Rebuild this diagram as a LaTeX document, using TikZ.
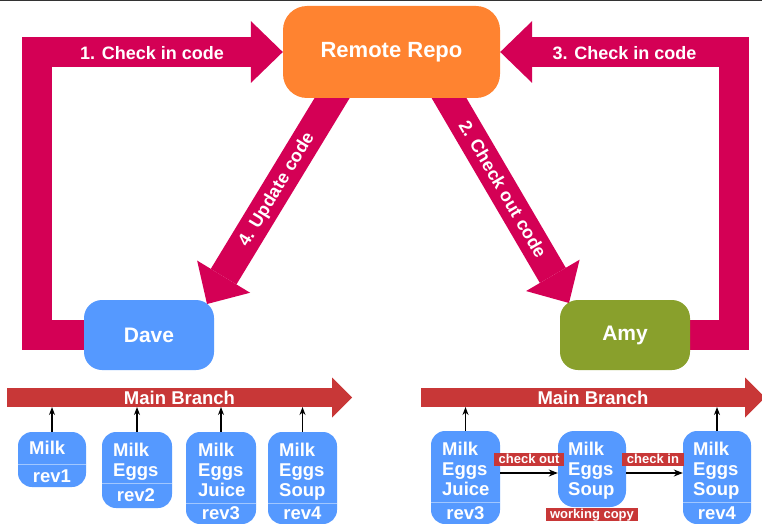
\documentclass[tikz,border=0pt]{standalone}
\usepackage{fontspec}
\setmainfont{Liberation Sans}
\usetikzlibrary{arrows.meta,calc}
\definecolor{mag}{HTML}{D40055}
\definecolor{orn}{HTML}{FF8330}
\definecolor{blu}{HTML}{5599FF}
\definecolor{grn}{HTML}{89A02C}
\definecolor{brd}{HTML}{C83737}
\definecolor{topline}{HTML}{333333}
\pgfdeclarelayer{bg}
\pgfsetlayers{bg,main}
\tikzset{
  bigarrow/.style={draw=mag, line width=30pt, line join=miter,
    -{Triangle[length=32pt,width=62pt,line width=0pt]}},
  branch/.style={draw=brd, line width=19pt,
    -{Triangle[length=20pt,width=40pt,line width=0pt]}},
  bignode/.style={inner sep=0pt, text=white, draw=none},
  arrowtext/.style={text=white, inner sep=0pt, font=\fontsize{18}{20}\selectfont\bfseries},
  btext/.style={text=white, inner sep=0pt, font=\fontsize{18.5}{20}\selectfont\bfseries},
  revbox/.style={fill=blu, rounded corners=14pt, inner sep=0pt, draw=none},
  boxtext/.style={text=white, inner sep=0pt, align=left, font=\fontsize{18.5}{20}\selectfont\bfseries},
  uptext/.style={boxtext, anchor=west},
  divline/.style={draw=white, draw opacity=0.45, line width=1pt},
  smallarrow/.style={draw=black, line width=1.2pt, -{Stealth[length=8pt,width=6pt]}},
  flowarrow/.style={draw=black, line width=1.2pt, -{Stealth[length=9pt,width=7pt]}},
  lbl/.style={fill=brd, text=white, inner xsep=4.5pt, inner ysep=0pt, text height=10pt, text depth=3pt, font=\fontsize{13}{14}\selectfont\bfseries}
}
\begin{document}
\begin{tikzpicture}[x=1pt,y=1pt]
\useasboundingbox (0,0) rectangle (762,-524);

% main nodes
\node[bignode, fill=orn, minimum width=217pt, minimum height=92pt, rounded corners=24pt,
      font=\fontsize{22}{24}\selectfont\bfseries] (remote) at (391.5,-52) {Remote Repo};
\node[bignode, fill=blu, minimum width=130pt, minimum height=70pt, rounded corners=18pt,
      font=\fontsize{21}{24}\selectfont\bfseries] (dave) at (149,-335) {Dave};
\node[bignode, fill=grn, minimum width=130pt, minimum height=70pt, rounded corners=18pt,
      font=\fontsize{21}{24}\selectfont\bfseries] (amy) at (625,-335) {Amy};

% diagonal arrow coordinates
\coordinate (s4) at (337,-90);
\coordinate (t4) at (207,-304);
\coordinate (s2) at (444.3,-90);
\coordinate (t2) at (569,-303);

\begin{pgfonlayer}{bg}
  \fill[white] (0,0) rectangle (762,-524);
  \draw[bigarrow] ([xshift=10pt]dave.west) -- ++(-57,0) |- (remote.west);
  \draw[bigarrow] ([xshift=-10pt]amy.east) -- ++(54,0) |- (remote.east);
  \draw[bigarrow] (s4) -- (t4);
  \draw[bigarrow] (s2) -- (t2);
\end{pgfonlayer}

\draw[topline, line width=1.2pt] (0,-0.6) -- (762,-0.6);

\node[arrowtext] (l1) at (152,-53) {1. Check in code};
\node[arrowtext] (l3) at (624.5,-53) {3. Check in code};
\node[arrowtext, rotate=58.8] (l4) at (277,-190) {4. Update code};
\node[arrowtext, rotate=-59.7] (l2) at (503,-189) {2. Check out code};

% branches
\coordinate (bL1) at (7,-397.5);
\coordinate (bL2) at (352,-397.5);
\coordinate (bR1) at (421,-397.5);
\coordinate (bR2) at (765,-397.5);
\draw[branch] (bL1) -- (bL2) node[midway, btext] {Main Branch};
\draw[branch] (bR1) -- (bR2) node[midway, btext] {Main Branch};
\coordinate (bbot) at (0,-407);

% left revision boxes
\node[revbox, minimum width=68pt, minimum height=55pt] (r1) at (52,-459.5) {};
\node[uptext] (r1t) at (29,-448) {Milk};
\node[boxtext] (r1r) at (52,-476) {rev1};
\draw[divline] ([yshift=-4.5pt]r1.west) -- ([yshift=-4.5pt]r1.east);

\node[revbox, minimum width=70pt, minimum height=76pt] (r2) at (137,-470) {};
\node[uptext] (r2t) at (113,-461.5) {Milk\\Eggs};
\node[boxtext] (r2r) at (136,-495) {rev2};
\draw[divline] ([yshift=-13pt]r2.west) -- ([yshift=-13pt]r2.east);

\node[revbox, minimum width=70pt, minimum height=92pt] (r3) at (221,-478) {};
\node[uptext] (r3t) at (198,-469.5) {Milk\\Eggs\\Juice};
\node[boxtext] (r3r) at (221,-513.5) {rev3};
\draw[divline] ([yshift=-25pt]r3.west) -- ([yshift=-25pt]r3.east);

\node[revbox, minimum width=69pt, minimum height=92pt] (r4) at (302.5,-478) {};
\node[uptext] (r4t) at (279,-471.5) {Milk\\Eggs\\Soup};
\node[boxtext] (r4r) at (302.5,-513.5) {rev4};
\draw[divline] ([yshift=-25pt]r4.west) -- ([yshift=-25pt]r4.east);

\foreach \b in {r1,r2,r3,r4}
  \draw[smallarrow] (\b.north) -- (\b.north |- bbot);

% right revision boxes
\node[revbox, minimum width=69pt, minimum height=93pt] (R3) at (465.5,-477.5) {};
\node[uptext] (R3t) at (442,-469) {Milk\\Eggs\\Juice};
\node[boxtext] (R3r) at (465.5,-513) {rev3};
\draw[divline] ([yshift=-24.5pt]R3.west) -- ([yshift=-24.5pt]R3.east);

\node[revbox, rounded corners=16pt, minimum width=68pt, minimum height=76pt] (W) at (592,-469) {};
\node[uptext] (Wt) at (568,-471) {Milk\\Eggs\\Soup};

\node[revbox, minimum width=68pt, minimum height=93pt] (R4) at (717,-477.5) {};
\node[uptext] (R4t) at (693,-471) {Milk\\Eggs\\Soup};
\node[boxtext] (R4r) at (717,-513) {rev4};
\draw[divline] ([yshift=-24.5pt]R4.west) -- ([yshift=-24.5pt]R4.east);

\draw[smallarrow] (R3.north) -- (R3.north |- bbot);
\draw[smallarrow] (R4.north) -- (R4.north |- bbot);

\coordinate (fy) at (0,-473);
\draw[flowarrow] (R3.east |- fy) -- (W.west |- fy) node[midway, lbl, yshift=13.5pt] {check out};
\draw[flowarrow] (W.east |- fy) -- (R4.west |- fy) node[midway, lbl, yshift=13.5pt, xshift=-1.5pt] {check in};
\node[lbl] (wc) at ([yshift=-7.5pt]W.south) {working copy};
\end{tikzpicture}
\end{document}
